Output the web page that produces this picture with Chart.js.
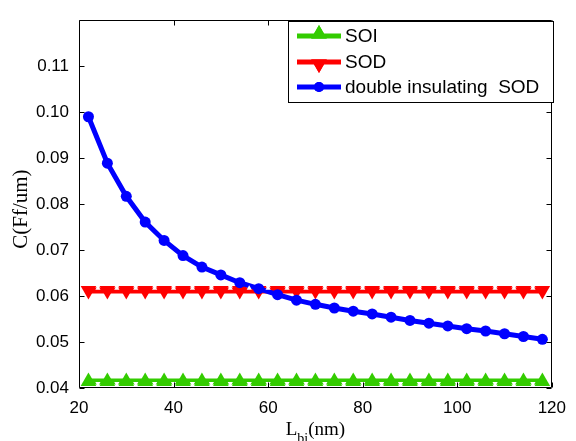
<!DOCTYPE html>
<html>
<head>
<meta charset="utf-8">
<script src="https://cdn.jsdelivr.net/npm/chart.js@4.4.1/dist/chart.umd.min.js"></script>
<style>
  html, body { margin: 0; padding: 0; background: #fff; }
  canvas { display: block; }
</style>
</head>
<body>
<canvas id="chart" width="576" height="441"></canvas>
<script>
// L_bi (nm) sample points
const lengths = [22, 26, 30, 34, 38, 42, 46, 50, 54, 58, 62, 66, 70, 74, 78, 82, 86, 90, 94, 98, 102, 106, 110, 114, 118];

// C (Ff/um)
const soiValues = [0.0414, 0.0414, 0.0414, 0.0414, 0.0414, 0.0414, 0.0414, 0.0414, 0.0414, 0.0414, 0.0414, 0.0414, 0.0414,
                   0.0414, 0.0414, 0.0414, 0.0414, 0.0414, 0.0414, 0.0414, 0.0414, 0.0414, 0.0414, 0.0414, 0.0414];
const sodValues = [0.0612, 0.0612, 0.0612, 0.0612, 0.0612, 0.0612, 0.0612, 0.0612, 0.0612, 0.0612, 0.0612, 0.0612, 0.0612,
                   0.0612, 0.0612, 0.0612, 0.0612, 0.0612, 0.0612, 0.0612, 0.0612, 0.0612, 0.0612, 0.0612, 0.0612];
const doubleSodValues = [0.0990, 0.0889, 0.0817, 0.0761, 0.0721, 0.0688, 0.0663, 0.0646, 0.0629, 0.0616, 0.0603, 0.0591, 0.0582,
                         0.0574, 0.0567, 0.0561, 0.0554, 0.0547, 0.0541, 0.0535, 0.0529, 0.0524, 0.0518, 0.0512, 0.0506];

// small white notches seen along the SOI / SOD bands
const notchX = [24, 28, 32, 36, 40, 44, 48, 52, 56, 60, 64, 68, 72, 76, 80, 84, 88, 92, 96, 100, 104, 108, 112, 116];
const sodNotch = 0.0617;
const soiNotch = 0.0410;

const seriesNames = ['SOI', 'SOD', 'double insulating  SOD'];
const xTicks = [20, 40, 60, 80, 100, 120];
const yTicks = [0.04, 0.05, 0.06, 0.07, 0.08, 0.09, 0.10, 0.11];

const GREEN = '#33cc00';
const RED = '#ff0000';
const BLUE = '#0000ff';
const SANS = "'Liberation Sans', Arial, sans-serif";
const SERIF = "'Liberation Serif', 'Times New Roman', serif";
const TRI = 9;

const pts = (xs, ys) => xs.map((x, i) => ({ x: x, y: Array.isArray(ys) ? ys[i] : ys }));

// box, inward ticks, axis titles and legend, drawn on top like matlab does
const framePlugin = {
    id: 'frame',
    afterDraw(chart) {
        const { ctx, chartArea: a, scales: { x, y } } = chart;
        const L = Math.round(a.left) + 0.5, R = Math.round(a.right) - 0.5;
        const T = Math.round(a.top) + 0.5, B = Math.round(a.bottom) - 0.5;
        ctx.save();
        ctx.strokeStyle = '#000';
        ctx.lineWidth = 1;
        ctx.beginPath();
        ctx.rect(L, T, R - L, B - T);
        xTicks.forEach(v => {
            const px = Math.round(x.getPixelForValue(v)) + 0.5;
            ctx.moveTo(px, B); ctx.lineTo(px, B - 5);
            ctx.moveTo(px, T); ctx.lineTo(px, T + 5);
        });
        yTicks.forEach(v => {
            const py = Math.round(y.getPixelForValue(v)) + 0.5;
            ctx.moveTo(L, py); ctx.lineTo(L + 5, py);
            ctx.moveTo(R, py); ctx.lineTo(R - 5, py);
        });
        ctx.stroke();

        // y title
        ctx.fillStyle = '#000';
        ctx.save();
        ctx.translate(27, (a.top + a.bottom) / 2 + 5);
        ctx.rotate(-Math.PI / 2);
        ctx.font = '21px ' + SERIF;
        ctx.textAlign = 'center';
        ctx.textBaseline = 'alphabetic';
        ctx.fillText('C(Ff/um)', 0, 0);
        ctx.restore();

        // x title with subscript
        ctx.textAlign = 'left';
        ctx.textBaseline = 'alphabetic';
        ctx.font = '19px ' + SERIF;
        const wL = ctx.measureText('L').width;
        const wN = ctx.measureText('(nm)').width;
        ctx.font = '14px ' + SERIF;
        const wS = ctx.measureText('bi').width;
        let tx = (a.left + a.right) / 2 - (wL + wS + wN) / 2;
        ctx.font = '19px ' + SERIF;
        ctx.fillText('L', tx, 435);
        ctx.font = '14px ' + SERIF;
        ctx.fillText('bi', tx + wL, 443);
        ctx.font = '19px ' + SERIF;
        ctx.fillText('(nm)', tx + wL + wS, 435);

        // legend
        const box = { left: 288.5, top: 21.5, right: 553.5, bottom: 102.5 };
        ctx.fillStyle = '#fff';
        ctx.fillRect(box.left, box.top, box.right - box.left, box.bottom - box.top);
        ctx.strokeRect(box.left, box.top, box.right - box.left, box.bottom - box.top);
        const rows = [36, 62, 87];
        const colors = [GREEN, RED, BLUE];
        rows.forEach((ry, i) => {
            ctx.strokeStyle = colors[i];
            ctx.lineWidth = 5;
            ctx.beginPath();
            ctx.moveTo(297, ry); ctx.lineTo(341, ry);
            ctx.stroke();
            ctx.fillStyle = colors[i];
            if (i === 2) {
                Chart.helpers.drawPoint(ctx, { pointStyle: 'circle', radius: 5, borderWidth: 0 }, 319, ry);
                ctx.fill();
            } else {
                Chart.helpers.drawPoint(ctx, { pointStyle: 'triangle', radius: TRI, rotation: i === 1 ? 180 : 0, borderWidth: 0 }, 319, i === 1 ? ry + 2 : ry - 2);
                ctx.fill();
            }
            ctx.fillStyle = '#000';
            ctx.font = '19px ' + SANS;
            ctx.textBaseline = 'middle';
            ctx.fillText(seriesNames[i], 345, ry + 1);
        });
        ctx.restore();
    }
};

new Chart(document.getElementById('chart'), {
    type: 'line',
    data: {
        datasets: [
            {
                label: 'sod notch',
                data: pts(notchX, sodNotch),
                showLine: false,
                pointStyle: 'triangle',
                pointRadius: 3,
                pointBackgroundColor: '#fff',
                pointBorderWidth: 0,
                order: 0
            },
            {
                label: 'soi notch',
                data: pts(notchX, soiNotch),
                showLine: false,
                pointStyle: 'triangle',
                rotation: 180,
                pointRadius: 3,
                pointBackgroundColor: '#fff',
                pointBorderWidth: 0,
                order: 0
            },
            {
                label: seriesNames[2],
                data: pts(lengths, doubleSodValues),
                borderColor: BLUE,
                borderWidth: 5,
                pointStyle: 'circle',
                pointRadius: 5.5,
                pointBackgroundColor: BLUE,
                pointBorderWidth: 0,
                order: 1
            },
            {
                label: seriesNames[1],
                data: pts(lengths, sodValues),
                borderColor: RED,
                borderWidth: 6,
                pointStyle: 'triangle',
                rotation: 180,
                pointRadius: TRI,
                pointBackgroundColor: RED,
                pointBorderWidth: 0,
                order: 2
            },
            {
                label: seriesNames[0],
                data: pts(lengths, soiValues),
                borderColor: GREEN,
                borderWidth: 6,
                pointStyle: 'triangle',
                pointRadius: TRI,
                pointBackgroundColor: GREEN,
                pointBorderWidth: 0,
                order: 2
            }
        ]
    },
    options: {
        responsive: false,
        animation: false,
        devicePixelRatio: 1,
        clip: false,
        layout: { padding: { top: 14, right: 16, left: 0, bottom: 0 } },
        plugins: {
            legend: { display: false },
            tooltip: { enabled: false }
        },
        scales: {
            x: {
                type: 'linear',
                min: 20,
                max: 120,
                afterBuildTicks: s => { s.ticks = xTicks.map(v => ({ value: v })); },
                afterFit: s => { s.height = 53; },
                ticks: {
                    color: '#000',
                    font: { size: 17, family: SANS },
                    padding: 10,
                    maxRotation: 0,
                    callback: v => String(v)
                },
                grid: { display: false, drawTicks: false },
                border: { display: false }
            },
            y: {
                min: 0.04,
                max: 0.12,
                afterBuildTicks: s => { s.ticks = yTicks.map(v => ({ value: v })); },
                afterFit: s => { s.width = 79; },
                ticks: {
                    color: '#000',
                    font: { size: 17, family: SANS },
                    padding: 10,
                    callback: v => Number(v).toFixed(2)
                },
                grid: { display: false, drawTicks: false },
                border: { display: false }
            }
        }
    },
    plugins: [framePlugin]
});
</script>
</body>
</html>
